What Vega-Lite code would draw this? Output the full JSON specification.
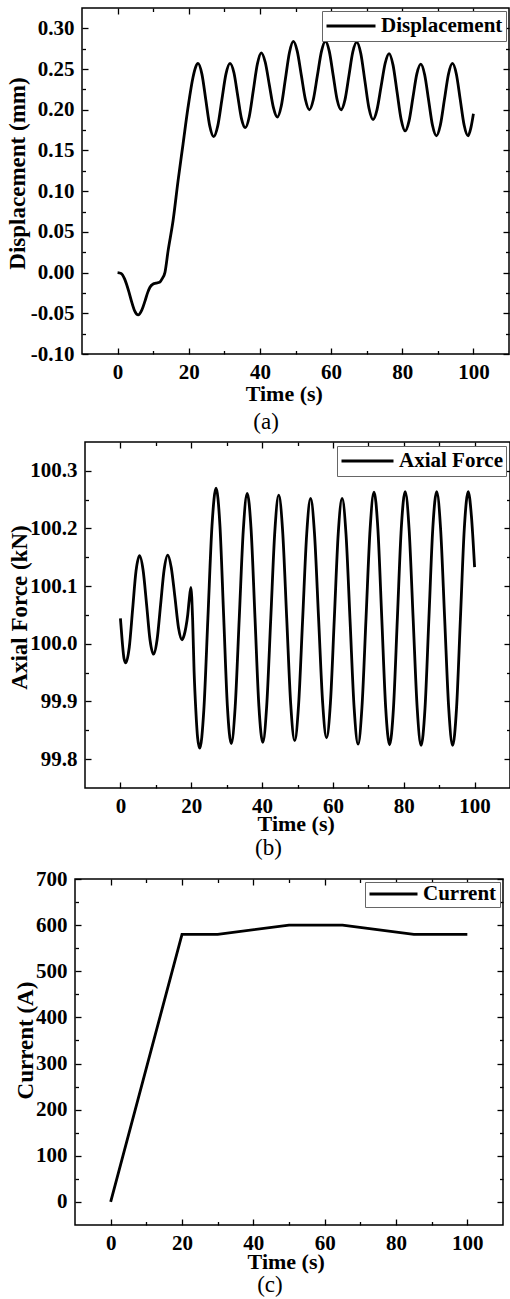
{
  "$schema": "https://vega.github.io/schema/vega-lite/v6.json",
  "background": "white",
  "padding": {"left": 0, "top": 6, "right": 0, "bottom": 0},
  "columns": 1,
  "align": "none",
  "spacing": 5,
  "resolve": {"scale": {"color": "independent"}, "legend": {"color": "independent"}},
  "datasets": {
    "spacer": [{"t": 0}],
    "disp": [
      {"t": 0, "v": 0}, {"t": 1, "v": -0.001}, {"t": 2, "v": -0.008}, {"t": 2.5, "v": -0.014}, {"t": 3.2, "v": -0.024}, {"t": 3.9, "v": -0.035}, {"t": 4.8, "v": -0.047}, {"t": 5.8, "v": -0.052}, {"t": 6.8, "v": -0.046}, {"t": 7.7, "v": -0.035}, {"t": 8.5, "v": -0.024}, {"t": 9.1, "v": -0.018}, {"t": 10, "v": -0.014}, {"t": 10.8, "v": -0.013}, {"t": 11.9, "v": -0.0115}, {"t": 12.6, "v": -0.007}, {"t": 13.3, "v": 0.0}, {"t": 14.2, "v": 0.027}, {"t": 15.6, "v": 0.064}, {"t": 17.0, "v": 0.113}, {"t": 18.4, "v": 0.158}, {"t": 19.8, "v": 0.203}, {"t": 21.2, "v": 0.24}, {"t": 21.9, "v": 0.252}, {"t": 22.6, "v": 0.257},
      {"t": 23.7, "v": 0.2438}, {"t": 24.8, "v": 0.212}, {"t": 25.9, "v": 0.1802}, {"t": 27.0, "v": 0.167},
      {"t": 28.15, "v": 0.1802}, {"t": 29.3, "v": 0.212}, {"t": 30.45, "v": 0.2438}, {"t": 31.6, "v": 0.257},
      {"t": 32.7, "v": 0.2454}, {"t": 33.75, "v": 0.2175}, {"t": 34.8, "v": 0.1895}, {"t": 35.9, "v": 0.178},
      {"t": 37.0, "v": 0.1915}, {"t": 38.15, "v": 0.224}, {"t": 39.3, "v": 0.2565}, {"t": 40.4, "v": 0.27},
      {"t": 41.5, "v": 0.2584}, {"t": 42.65, "v": 0.2305}, {"t": 43.8, "v": 0.2026}, {"t": 44.9, "v": 0.191},
      {"t": 46.0, "v": 0.2046}, {"t": 47.15, "v": 0.2375}, {"t": 48.3, "v": 0.2704}, {"t": 49.4, "v": 0.284},
      {"t": 50.5, "v": 0.2717}, {"t": 51.65, "v": 0.242}, {"t": 52.8, "v": 0.2123}, {"t": 53.9, "v": 0.2},
      {"t": 55.0, "v": 0.2123}, {"t": 56.15, "v": 0.242}, {"t": 57.3, "v": 0.2717}, {"t": 58.4, "v": 0.284},
      {"t": 59.5, "v": 0.2717}, {"t": 60.6, "v": 0.242}, {"t": 61.7, "v": 0.2123}, {"t": 62.8, "v": 0.2},
      {"t": 63.9, "v": 0.2121}, {"t": 65.0, "v": 0.2415}, {"t": 66.1, "v": 0.2709}, {"t": 67.2, "v": 0.283},
      {"t": 68.35, "v": 0.2691}, {"t": 69.5, "v": 0.2355}, {"t": 70.65, "v": 0.2019}, {"t": 71.8, "v": 0.188},
      {"t": 72.9, "v": 0.1999}, {"t": 74.05, "v": 0.2285}, {"t": 75.2, "v": 0.2571}, {"t": 76.3, "v": 0.269},
      {"t": 77.4, "v": 0.2551}, {"t": 78.55, "v": 0.2215}, {"t": 79.7, "v": 0.1879}, {"t": 80.8, "v": 0.174},
      {"t": 81.9, "v": 0.186}, {"t": 83.0, "v": 0.215}, {"t": 84.1, "v": 0.244}, {"t": 85.2, "v": 0.256},
      {"t": 86.3, "v": 0.2431}, {"t": 87.4, "v": 0.212}, {"t": 88.5, "v": 0.1809}, {"t": 89.6, "v": 0.168},
      {"t": 90.7, "v": 0.181}, {"t": 91.85, "v": 0.2125}, {"t": 93.0, "v": 0.244}, {"t": 94.1, "v": 0.257},
      {"t": 95.2, "v": 0.244}, {"t": 96.3, "v": 0.2125}, {"t": 97.4, "v": 0.181}, {"t": 98.5, "v": 0.168},
      {"t": 99.3, "v": 0.178}, {"t": 100, "v": 0.195}
    ],
    "force": [
      {"t": 0, "v": 100.044}, {"t": 0.5, "v": 100.005}, {"t": 1.0, "v": 99.975}, {"t": 1.5, "v": 99.967}, {"t": 2.5, "v": 99.994}, {"t": 3.45, "v": 100.06}, {"t": 4.4, "v": 100.126}, {"t": 5.4, "v": 100.153}, {"t": 6.4, "v": 100.128}, {"t": 7.4, "v": 100.0675}, {"t": 8.35, "v": 100.007}, {"t": 9.35, "v": 99.982}, {"t": 10.35, "v": 100.007}, {"t": 11.35, "v": 100.068}, {"t": 12.35, "v": 100.129}, {"t": 13.35, "v": 100.154}, {"t": 14.35, "v": 100.1325}, {"t": 15.4, "v": 100.0805}, {"t": 16.4, "v": 100.028}, {"t": 17.4, "v": 100.007}, {"t": 18.0, "v": 100.015}, {"t": 18.5, "v": 100.029}, {"t": 19.0, "v": 100.05}, {"t": 19.4, "v": 100.075}, {"t": 19.9, "v": 100.098}, {"t": 20.4, "v": 100.04}, {"t": 20.8, "v": 99.953}, {"t": 21.3, "v": 99.884}, {"t": 21.8, "v": 99.837}, {"t": 22.4, "v": 99.819},
      {"t": 23.55, "v": 99.885}, {"t": 24.7, "v": 100.0445}, {"t": 25.85, "v": 100.204}, {"t": 27.0, "v": 100.27},
      {"t": 28.1, "v": 100.205}, {"t": 29.15, "v": 100.0485}, {"t": 30.2, "v": 99.892}, {"t": 31.3, "v": 99.827},
      {"t": 32.4, "v": 99.8905}, {"t": 33.55, "v": 100.044}, {"t": 34.7, "v": 100.1975}, {"t": 35.8, "v": 100.261},
      {"t": 36.9, "v": 100.198}, {"t": 38.0, "v": 100.045}, {"t": 39.1, "v": 99.892}, {"t": 40.2, "v": 99.829},
      {"t": 41.3, "v": 99.892}, {"t": 42.45, "v": 100.0435}, {"t": 43.6, "v": 100.195}, {"t": 44.7, "v": 100.258},
      {"t": 45.8, "v": 100.196}, {"t": 46.95, "v": 100.045}, {"t": 48.1, "v": 99.894}, {"t": 49.2, "v": 99.832},
      {"t": 50.3, "v": 99.8935}, {"t": 51.45, "v": 100.042}, {"t": 52.6, "v": 100.1905}, {"t": 53.7, "v": 100.252},
      {"t": 54.8, "v": 100.191}, {"t": 55.95, "v": 100.0445}, {"t": 57.1, "v": 99.898}, {"t": 58.2, "v": 99.837},
      {"t": 59.3, "v": 99.898}, {"t": 60.4, "v": 100.0445}, {"t": 61.5, "v": 100.191}, {"t": 62.6, "v": 100.252},
      {"t": 63.7, "v": 100.19}, {"t": 64.85, "v": 100.039}, {"t": 66.0, "v": 99.888}, {"t": 67.1, "v": 99.826},
      {"t": 68.2, "v": 99.89}, {"t": 69.35, "v": 100.0445}, {"t": 70.5, "v": 100.199}, {"t": 71.6, "v": 100.263},
      {"t": 72.7, "v": 100.199}, {"t": 73.8, "v": 100.044}, {"t": 74.9, "v": 99.889}, {"t": 76.0, "v": 99.825},
      {"t": 77.1, "v": 99.889}, {"t": 78.2, "v": 100.0445}, {"t": 79.3, "v": 100.2}, {"t": 80.4, "v": 100.264},
      {"t": 81.5, "v": 100.2}, {"t": 82.65, "v": 100.044}, {"t": 83.8, "v": 99.888}, {"t": 84.9, "v": 99.824},
      {"t": 86.0, "v": 99.888}, {"t": 87.1, "v": 100.044}, {"t": 88.2, "v": 100.2}, {"t": 89.3, "v": 100.264},
      {"t": 90.4, "v": 100.2}, {"t": 91.55, "v": 100.044}, {"t": 92.7, "v": 99.888}, {"t": 93.8, "v": 99.824},
      {"t": 94.9, "v": 99.888}, {"t": 96.0, "v": 100.044}, {"t": 97.1, "v": 100.2}, {"t": 98.2, "v": 100.264},
      {"t": 99.1, "v": 100.222}, {"t": 100, "v": 100.133}
    ],
    "current": [
      {"t": 0, "v": 0}, {"t": 20, "v": 580}, {"t": 30, "v": 580}, {"t": 50, "v": 600}, {"t": 65, "v": 600}, {"t": 85, "v": 580}, {"t": 100, "v": 580}
    ]
  },
  "concat": [
    {
      "spacing": 0,
      "hconcat": [
        {"width": 4.5, "height": 1, "data": {"name": "spacer"}, "mark": {"type": "point", "opacity": 0, "size": 1}, "view": {"stroke": null}},
        {
          "width": 427,
          "height": 346,
          "data": {"name": "disp"},
          "title": {"text": "(a)", "orient": "bottom", "frame": "bounds", "anchor": "middle", "dx": 8, "offset": 6.4, "font": "Liberation Serif", "fontSize": 23, "fontWeight": "normal", "color": "black"},
          "layer": [
            {
              "mark": {"type": "line", "interpolate": "monotone", "strokeWidth": 2.8},
              "encoding": {
                "x": {"field": "t", "type": "quantitative", "scale": {"domain": [-10, 110], "nice": false, "zero": false},
                      "axis": {"orient": "bottom", "values": [0, 20, 40, 60, 80, 100], "title": "Time (s)", "titleX": 201.8, "titleY": 29.6, "titleBaseline": "top", "labelPadding": 13.8, "tickSize": -6}},
                "y": {"field": "v", "type": "quantitative", "scale": {"domain": [-0.1, 0.325], "nice": false, "zero": false},
                      "axis": {"orient": "left", "values": [-0.1, -0.05, 0, 0.05, 0.1, 0.15, 0.2, 0.25, 0.3], "format": ".2f", "title": "Displacement (mm)", "titleX": -64.4, "titleY": 165, "titleBaseline": "middle", "labelPadding": 14, "tickSize": -6}},
                "color": {"datum": "Displacement", "type": "nominal", "scale": {"range": ["black"]},
                          "legend": {"orient": "top-right", "offset": 3, "title": null, "symbolType": "stroke", "symbolSize": 2401, "symbolStrokeWidth": 2.8, "labelOffset": 4, "padding": 3, "clipHeight": 24, "strokeColor": "#666666", "fillColor": "white"}}
              }
            },
            {
              "mark": {"type": "line", "strokeOpacity": 0},
              "encoding": {
                "x": {"field": "t", "type": "quantitative", "scale": {"domain": [-10, 110], "nice": false, "zero": false},
                      "axis": {"orient": "top", "values": [0, 20, 40, 60, 80, 100], "labels": false, "title": null, "tickSize": -6}},
                "y": {"field": "v", "type": "quantitative", "scale": {"domain": [-0.1, 0.325], "nice": false, "zero": false},
                      "axis": {"orient": "right", "values": [-0.1, -0.05, 0, 0.05, 0.1, 0.15, 0.2, 0.25, 0.3], "labels": false, "title": null, "tickSize": -6}}
              }
            },
            {
              "mark": {"type": "line", "strokeOpacity": 0},
              "encoding": {
                "x": {"field": "t", "type": "quantitative", "scale": {"domain": [-10, 110], "nice": false, "zero": false},
                      "axis": {"orient": "bottom", "values": [10, 30, 50, 70, 90], "labels": false, "title": null, "tickSize": -3.5}},
                "y": {"field": "v", "type": "quantitative", "scale": {"domain": [-0.1, 0.325], "nice": false, "zero": false},
                      "axis": {"orient": "left", "values": [-0.075, -0.025, 0.025, 0.075, 0.125, 0.175, 0.225, 0.275], "labels": false, "title": null, "tickSize": -3.5}}
              }
            },
            {
              "mark": {"type": "line", "strokeOpacity": 0},
              "encoding": {
                "x": {"field": "t", "type": "quantitative", "scale": {"domain": [-10, 110], "nice": false, "zero": false},
                      "axis": {"orient": "top", "values": [10, 30, 50, 70, 90], "labels": false, "title": null, "tickSize": -3.5}},
                "y": {"field": "v", "type": "quantitative", "scale": {"domain": [-0.1, 0.325], "nice": false, "zero": false},
                      "axis": {"orient": "right", "values": [-0.075, -0.025, 0.025, 0.075, 0.125, 0.175, 0.225, 0.275], "labels": false, "title": null, "tickSize": -3.5}}
              }
            }
          ],
          "resolve": {"axis": {"x": "independent", "y": "independent"}}
        }
      ],
      "resolve": {"scale": {"color": "independent"}, "legend": {"color": "independent"}}
    },
    {
      "spacing": 0,
      "hconcat": [
        {"width": 6.5, "height": 1, "data": {"name": "spacer"}, "mark": {"type": "point", "opacity": 0, "size": 1}, "view": {"stroke": null}},
        {
          "width": 425,
          "height": 346,
          "data": {"name": "force"},
          "title": {"text": "(b)", "orient": "bottom", "frame": "bounds", "anchor": "middle", "dx": 9, "offset": 2.4, "font": "Liberation Serif", "fontSize": 23, "fontWeight": "normal", "color": "black"},
          "layer": [
            {
              "mark": {"type": "line", "interpolate": "monotone", "strokeWidth": 2.8},
              "encoding": {
                "x": {"field": "t", "type": "quantitative", "scale": {"domain": [-10, 110], "nice": false, "zero": false},
                      "axis": {"orient": "bottom", "values": [0, 20, 40, 60, 80, 100], "title": "Time (s)", "titleX": 210.7, "titleY": 25.9, "titleBaseline": "top", "labelPadding": 13.8, "tickSize": -6}},
                "y": {"field": "v", "type": "quantitative", "scale": {"domain": [99.75, 100.35], "nice": false, "zero": false},
                      "axis": {"orient": "left", "values": [99.8, 99.9, 100, 100.1, 100.2, 100.3], "format": ".1f", "title": "Axial Force (kN)", "titleX": -65.7, "titleY": 165, "titleBaseline": "middle", "labelPadding": 14, "tickSize": -6}},
                "color": {"datum": "Axial Force", "type": "nominal", "scale": {"range": ["black"]},
                          "legend": {"orient": "top-right", "offset": 4, "title": null, "symbolType": "stroke", "symbolSize": 2704, "symbolStrokeWidth": 2.8, "labelOffset": 4, "padding": 3, "clipHeight": 24, "strokeColor": "#666666", "fillColor": "white"}}
              }
            },
            {
              "mark": {"type": "line", "strokeOpacity": 0},
              "encoding": {
                "x": {"field": "t", "type": "quantitative", "scale": {"domain": [-10, 110], "nice": false, "zero": false},
                      "axis": {"orient": "top", "values": [0, 20, 40, 60, 80, 100], "labels": false, "title": null, "tickSize": -6}},
                "y": {"field": "v", "type": "quantitative", "scale": {"domain": [99.75, 100.35], "nice": false, "zero": false},
                      "axis": {"orient": "right", "values": [99.8, 99.9, 100, 100.1, 100.2, 100.3], "labels": false, "title": null, "tickSize": -6}}
              }
            },
            {
              "mark": {"type": "line", "strokeOpacity": 0},
              "encoding": {
                "x": {"field": "t", "type": "quantitative", "scale": {"domain": [-10, 110], "nice": false, "zero": false},
                      "axis": {"orient": "bottom", "values": [10, 30, 50, 70, 90], "labels": false, "title": null, "tickSize": -3.5}},
                "y": {"field": "v", "type": "quantitative", "scale": {"domain": [99.75, 100.35], "nice": false, "zero": false},
                      "axis": {"orient": "left", "values": [99.85, 99.95, 100.05, 100.15, 100.25], "labels": false, "title": null, "tickSize": -3.5}}
              }
            },
            {
              "mark": {"type": "line", "strokeOpacity": 0},
              "encoding": {
                "x": {"field": "t", "type": "quantitative", "scale": {"domain": [-10, 110], "nice": false, "zero": false},
                      "axis": {"orient": "top", "values": [10, 30, 50, 70, 90], "labels": false, "title": null, "tickSize": -3.5}},
                "y": {"field": "v", "type": "quantitative", "scale": {"domain": [99.75, 100.35], "nice": false, "zero": false},
                      "axis": {"orient": "right", "values": [99.85, 99.95, 100.05, 100.15, 100.25], "labels": false, "title": null, "tickSize": -3.5}}
              }
            }
          ],
          "resolve": {"axis": {"x": "independent", "y": "independent"}}
        }
      ],
      "resolve": {"scale": {"color": "independent"}, "legend": {"color": "independent"}}
    },
    {
      "spacing": 0,
      "hconcat": [
        {"width": 12.5, "height": 1, "data": {"name": "spacer"}, "mark": {"type": "point", "opacity": 0, "size": 1}, "view": {"stroke": null}},
        {
          "width": 428,
          "height": 346,
          "data": {"name": "current"},
          "title": {"text": "(c)", "orient": "bottom", "frame": "bounds", "anchor": "middle", "dx": 11, "offset": 1.4, "font": "Liberation Serif", "fontSize": 23, "fontWeight": "normal", "color": "black"},
          "layer": [
            {
              "mark": {"type": "line", "strokeWidth": 2.8},
              "encoding": {
                "x": {"field": "t", "type": "quantitative", "scale": {"domain": [-10, 110], "nice": false, "zero": false},
                      "axis": {"orient": "bottom", "values": [0, 20, 40, 60, 80, 100], "title": "Time (s)", "titleX": 210.7, "titleY": 26.3, "titleBaseline": "top", "labelPadding": 13.8, "tickSize": -6}},
                "y": {"field": "v", "type": "quantitative", "scale": {"domain": [-50, 700], "nice": false, "zero": false},
                      "axis": {"orient": "left", "values": [0, 100, 200, 300, 400, 500, 600, 700], "format": "d", "title": "Current (A)", "titleX": -49.7, "titleY": 161, "titleBaseline": "middle", "labelPadding": 14, "tickSize": -6}},
                "color": {"datum": "Current", "type": "nominal", "scale": {"range": ["black"]},
                          "legend": {"orient": "top-right", "offset": 3, "title": null, "symbolType": "stroke", "symbolSize": 2304, "symbolStrokeWidth": 2.8, "labelOffset": 4, "padding": 3, "clipHeight": 18, "strokeColor": "#666666", "fillColor": "white"}}
              }
            },
            {
              "mark": {"type": "line", "strokeOpacity": 0},
              "encoding": {
                "x": {"field": "t", "type": "quantitative", "scale": {"domain": [-10, 110], "nice": false, "zero": false},
                      "axis": {"orient": "top", "values": [0, 20, 40, 60, 80, 100], "labels": false, "title": null, "tickSize": -6}},
                "y": {"field": "v", "type": "quantitative", "scale": {"domain": [-50, 700], "nice": false, "zero": false},
                      "axis": {"orient": "right", "values": [0, 100, 200, 300, 400, 500, 600, 700], "labels": false, "title": null, "tickSize": -6}}
              }
            },
            {
              "mark": {"type": "line", "strokeOpacity": 0},
              "encoding": {
                "x": {"field": "t", "type": "quantitative", "scale": {"domain": [-10, 110], "nice": false, "zero": false},
                      "axis": {"orient": "bottom", "values": [10, 30, 50, 70, 90], "labels": false, "title": null, "tickSize": -3.5}},
                "y": {"field": "v", "type": "quantitative", "scale": {"domain": [-50, 700], "nice": false, "zero": false},
                      "axis": {"orient": "left", "values": [50, 150, 250, 350, 450, 550, 650], "labels": false, "title": null, "tickSize": -3.5}}
              }
            },
            {
              "mark": {"type": "line", "strokeOpacity": 0},
              "encoding": {
                "x": {"field": "t", "type": "quantitative", "scale": {"domain": [-10, 110], "nice": false, "zero": false},
                      "axis": {"orient": "top", "values": [10, 30, 50, 70, 90], "labels": false, "title": null, "tickSize": -3.5}},
                "y": {"field": "v", "type": "quantitative", "scale": {"domain": [-50, 700], "nice": false, "zero": false},
                      "axis": {"orient": "right", "values": [50, 150, 250, 350, 450, 550, 650], "labels": false, "title": null, "tickSize": -3.5}}
              }
            }
          ],
          "resolve": {"axis": {"x": "independent", "y": "independent"}}
        }
      ],
      "resolve": {"scale": {"color": "independent"}, "legend": {"color": "independent"}}
    }
  ],
  "config": {
    "locale": {"number": {"decimal": ".", "thousands": ",", "grouping": [3], "currency": ["$", ""], "minus": "-"}},
    "view": {"stroke": "black", "strokeWidth": 1.5},
    "axis": {"domain": false, "grid": false, "tickColor": "black", "tickWidth": 1.3, "labelFont": "Liberation Serif", "labelFontSize": 21, "labelFontWeight": "bold", "labelColor": "black", "labelOverlap": false, "titleFont": "Liberation Serif", "titleFontSize": 23, "titleFontWeight": "bold", "titleColor": "black"},
    "axisX": {"titleFontSize": 22},
    "legend": {"labelFont": "Liberation Serif", "labelFontSize": 21, "labelFontWeight": "bold", "labelColor": "black", "strokeWidth": 1}
  }
}
